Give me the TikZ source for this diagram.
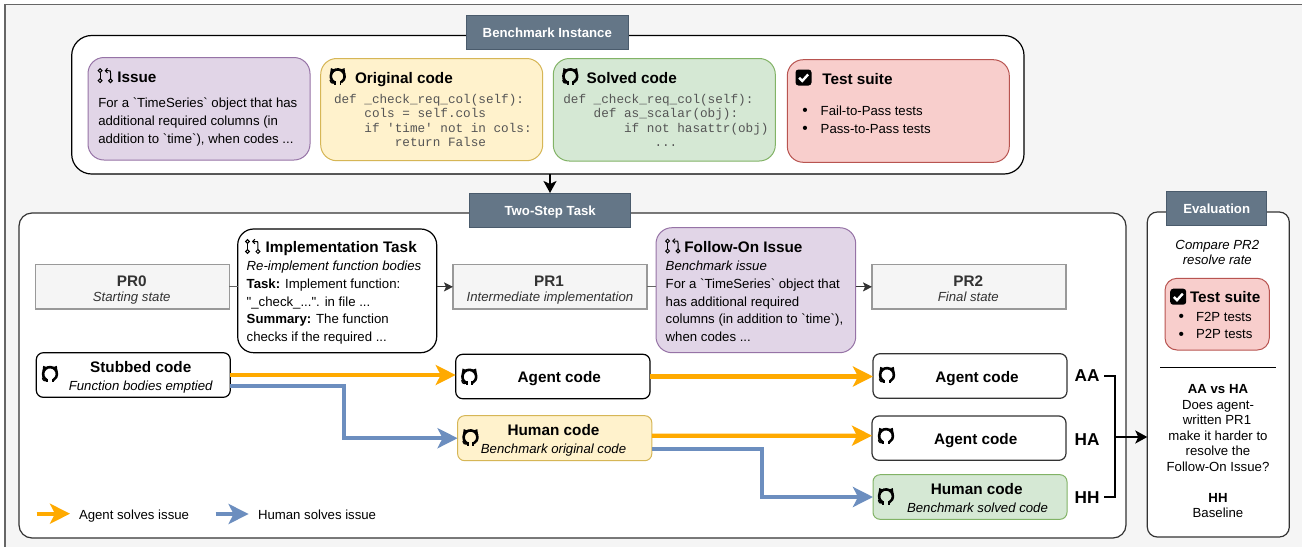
\documentclass[tikz,border=0pt]{standalone}
\usepackage{fontspec}
\usetikzlibrary{arrows.meta}
\newfontfamily\libsans{Liberation Sans}
\newfontfamily\libmono{Liberation Mono}
\definecolor{pgbg}{HTML}{F5F5F5}
\definecolor{pgline}{HTML}{666666}
\definecolor{purf}{HTML}{E1D5E7}\definecolor{purs}{HTML}{9673A6}
\definecolor{yelf}{HTML}{FFF2CC}\definecolor{yels}{HTML}{D6B656}
\definecolor{grnf}{HTML}{D5E8D4}\definecolor{grns}{HTML}{82B366}
\definecolor{redf}{HTML}{F8CECC}\definecolor{reds}{HTML}{B85450}
\definecolor{tabf}{HTML}{647687}\definecolor{tabs}{HTML}{4A5B6C}
\definecolor{orflow}{HTML}{FFAA00}\definecolor{blflow}{HTML}{6C8EBF}
\definecolor{txtgr}{HTML}{333333}\definecolor{prs}{HTML}{999999}
\definecolor{codegr}{HTML}{555555}
\newcommand{\bx}[6]{\node[#1,minimum width={(#4-#2)*1pt},minimum height={(#5-#3)*1pt}] (#6) at ({(#2+#4)/2},{(#3+#5)/2}) {};}
\tikzset{
  x=1pt,y=-1pt,
  every node/.style={inner sep=0pt,outer sep=0pt},
  card/.style={draw,rectangle,rounded corners=16pt,line width=1pt},
  sbox/.style={draw,rectangle,rounded corners=7pt,line width=1.2pt},
  tabbox/.style={draw=tabs,fill=tabf,line width=1pt,text=white,font=\libsans\bfseries\fontsize{13.2}{16}\selectfont,minimum height=34pt},
  prbox/.style={draw=prs,fill=pgbg,line width=1.3pt},
  reg/.style={font=\libsans\fontsize{13.2}{18}\selectfont,yshift=-4.6pt},
  sub/.style={font=\libsans\itshape\fontsize{13.2}{18}\selectfont,yshift=-4.6pt},
  ttl/.style={font=\libsans\bfseries\fontsize{15.3}{18}\selectfont,yshift=-5.3pt},
  blt/.style={font=\libsans\fontsize{15.5}{18}\selectfont,yshift=-5.2pt,anchor=base west},
  codeline/.style={font=\libmono\fontsize{12.67}{14.4}\selectfont,text=codegr,anchor=base west,yshift=-3.5pt},
  lf/.style={anchor=base west},
  ct/.style={anchor=base},
  orarrow/.style={draw=orflow,line width=4.2pt,-{Stealth[length=20pt,width=20pt,inset=5pt]}},
  blarrow/.style={draw=blflow,line width=4.2pt,-{Stealth[length=20pt,width=20pt,inset=5pt]}},
  thinlink/.style={draw=pgline,line width=1.2pt},
  thinarrow/.style={draw=txtgr,line width=1.2pt,-{Stealth[length=9pt,width=9pt,inset=2pt]}},
  bigarrow/.style={draw=black,line width=2pt,-{Stealth[length=12pt,width=13pt,inset=3pt]}},
  ghicon/.pic={
    \draw[line width=2.6pt,black] (118:6.9) arc[start angle=118,end angle=422,radius=6.9];
    \fill[black] (-7.6,-2.5) -- (-6.8,-8.2) -- (-2.5,-6.6) -- cycle;
    \fill[black] (7.6,-2.5) -- (6.8,-8.2) -- (2.5,-6.6) -- cycle;
    \fill[black] (-3.6,4.5) rectangle (-1.8,8.4);
    \fill[black] (3.6,4.5) rectangle (1.8,8.4);
    \draw[line width=1.3pt,black] (-7.6,3.5) .. controls (-6.6,6.8) .. (-2.5,6.6);
  },
  gticon/.pic={
    \draw[line width=1pt,black] (-5.2,-5) circle[radius=1.9] (-5.2,5) circle[radius=1.9] (5.2,5) circle[radius=1.9];
    \draw[line width=1pt,black] (-5.2,-3.1) -- (-5.2,3.1);
    \draw[line width=1pt,black] (5.2,3.1) -- (5.2,-3) .. controls (5.2,-5) .. (3,-5) -- (0.2,-5);
    \draw[line width=1pt,black] (2.2,-7.3) -- (0,-5) -- (2.2,-2.7);
  },
  ckicon/.pic={
    \fill[black,rounded corners=3pt] (-8,-8) rectangle (8,8);
    \draw[white,line width=2.4pt] (-4.4,0.3) -- (-1.2,3.4) -- (4.6,-3);
  }
}
\begin{document}
\begin{tikzpicture}
\useasboundingbox (0,0) rectangle (1302,547);
\fill[pgbg] (5,4.5) rectangle (1302,547);
\draw[pgline,line width=1.3pt] (1302,4.5) -- (5,4.5) -- (5,547);

% outer containers
\bx{draw=black,fill=white,rounded corners=20pt,line width=1.2pt}{71.7}{35.5}{1024}{174}{inst}
\bx{draw=txtgr,fill=white,rounded corners=13pt,line width=1.2pt}{19}{213}{1126}{538}{task}
\bx{draw=txtgr,fill=white,rounded corners=10pt,line width=1.2pt}{1147.3}{212}{1289.3}{537}{eval}

% tabs
\node[tabbox,minimum width=161.5pt,text height=10pt,text depth=0pt,yshift=-0.8pt] (tabbench) at (547.3,31.2) {Benchmark Instance};
\node[tabbox,minimum width=161.5pt,text height=10pt,text depth=0pt,yshift=-0.8pt] (tabtask) at (550.2,209.2) {Two-Step Task};
\node[tabbox,minimum width=100pt,text height=10pt,text depth=0pt,yshift=-0.8pt] (tabeval) at (1216.7,207.9) {Evaluation};

% instance cards
\bx{card,draw=purs,fill=purf}{88}{57.5}{310}{160}{issue}
\bx{card,draw=yels,fill=yelf}{320.7}{58.5}{542.7}{160.7}{orig}
\bx{card,draw=grns,fill=grnf}{553.3}{58.5}{775.3}{161}{solved}
\bx{card,draw=reds,fill=redf}{787.3}{59.7}{1009.3}{162.3}{tests}

\pic at (105.3,75.7) {gticon};
\node[ttl,lf] (issuet) at (117.3,77) {Issue};
\node[reg,lf] (issue1) at (98.3,103.2) {For a `TimeSeries` object that has};
\node[reg,lf] (issue2) at (98.3,121.2) {additional required columns (in};
\node[reg,lf] (issue3) at (98.3,139.2) {addition to `time`), when codes ...};

\pic at (337.7,76.3) {ghicon};
\node[ttl,lf] (origt) at (355,77.8) {Original code};
\node[codeline] (oc1) at (334,99.8) {def \_check\_req\_col(self):};
\node[codeline] (oc2) at (364.4,114.2) {cols = self.cols};
\node[codeline] (oc3) at (364.4,128.6) {if 'time' not in cols:};
\node[codeline] (oc4) at (394.8,143) {return False};

\pic at (570.3,76.3) {ghicon};
\node[ttl,lf] (solvt) at (586.7,77.8) {Solved code};
\node[codeline] (sc1) at (563.3,99.8) {def \_check\_req\_col(self):};
\node[codeline] (sc2) at (593.7,114.2) {def as\_scalar(obj):};
\node[codeline] (sc3) at (624.1,128.6) {if not hasattr(obj)};
\node[codeline] (sc4) at (654.5,143) {...};

\pic at (803.5,77.5) {ckicon};
\node[ttl,lf] (testt) at (822.3,78.8) {Test suite};
\node[blt] (tb1) at (802.3,110.5) {•};
\node[reg,lf] (tt1) at (820.7,110.5) {Fail-to-Pass tests};
\node[blt] (tb2) at (802.3,128.5) {•};
\node[reg,lf] (tt2) at (820.7,128.5) {Pass-to-Pass tests};

% PR row
\bx{prbox}{35.3}{264.7}{229.3}{309}{pr0}
\node[ttl,ct,text=txtgr] (pr0t) at (131.7,280.7) {PR0};
\node[sub,ct,text=txtgr] (pr0s) at (131.7,297) {Starting state};
\bx{card,draw=black,fill=white,line width=1.2pt}{237.7}{229}{436.7}{352.7}{impl}
\pic at (252.7,246.5) {gticon};
\node[ttl,lf] (implt) at (265.7,247.3) {Implementation Task};
\node[sub,lf] (impl1) at (246.7,265.7) {Re-implement function bodies};
\node[reg,lf] (impl2) at (246.7,283.5) {\textbf{Task:} Implement function:};
\node[reg,lf] (impl3) at (246.7,301.5) {"\_check\_...". in file ...};
\node[reg,lf] (impl4) at (246.7,319.3) {\textbf{Summary:} The function};
\node[reg,lf] (impl5) at (246.7,337) {checks if the required ...};

\bx{prbox}{453}{264.7}{647}{309}{pr1}
\node[ttl,ct,text=txtgr] (pr1t) at (549,280.7) {PR1};
\node[sub,ct,text=txtgr] (pr1s) at (550,297) {Intermediate implementation};
\bx{card,draw=purs,fill=purf}{656}{227.7}{855.7}{352.7}{follow}
\pic at (672.8,246) {gticon};
\node[ttl,lf] (follt) at (684.3,247.3) {Follow-On Issue};
\node[sub,lf] (foll1) at (665.7,265.7) {Benchmark issue};
\node[reg,lf] (foll2) at (665.7,283.5) {For a `TimeSeries` object that};
\node[reg,lf] (foll3) at (665.7,301.5) {has additional required};
\node[reg,lf] (foll4) at (665.7,319.3) {columns (in addition to `time`),};
\node[reg,lf] (foll5) at (665.7,337) {when codes ...};

\bx{prbox}{872}{264.7}{1066}{309}{pr2}
\node[ttl,ct,text=txtgr] (pr2t) at (968.3,280.7) {PR2};
\node[sub,ct,text=txtgr] (pr2s) at (968.3,297) {Final state};

% code boxes
\bx{sbox,draw=black,fill=white}{36.3}{352.7}{230.3}{397.3}{stub}
\pic at (50,374) {ghicon};
\node[ttl,ct] (stubt) at (140.7,367) {Stubbed code};
\node[sub,ct] (stubs) at (140.7,385.7) {Function bodies emptied};

\bx{sbox,draw=black,fill=white}{455.7}{354.3}{650}{398.7}{agent1}
\pic at (469.3,376.7) {ghicon};
\node[ttl,ct] (a1t) at (559.3,377) {Agent code};

\bx{sbox,draw=yels,fill=yelf,line width=1pt}{457.6}{415.7}{651.8}{460.7}{horig}
\pic at (470.5,437.3) {ghicon};
\node[ttl,ct] (hot) at (553.5,430.3) {Human code};
\node[sub,ct] (hos) at (553.5,449.3) {Benchmark original code};

\bx{sbox,draw=txtgr,fill=white}{873}{353.7}{1067}{398.3}{agent2}
\pic at (887,375) {ghicon};
\node[ttl,ct] (a2t) at (977,377) {Agent code};

\bx{sbox,draw=txtgr,fill=white}{872}{416}{1066}{460.3}{agent3}
\pic at (886,436) {ghicon};
\node[ttl,ct] (a3t) at (975.7,439) {Agent code};

\bx{sbox,draw=grns,fill=grnf,line width=1pt}{873}{474.7}{1067}{519.3}{hsolved}
\pic at (886,496.3) {ghicon};
\node[ttl,ct] (hst) at (976.7,489.3) {Human code};
\node[sub,ct] (hss) at (977.5,507.7) {Benchmark solved code};

% labels
\node[font=\libsans\bfseries\fontsize{17.2}{18}\selectfont,anchor=center] (laa) at (1087,376) {AA};
\node[font=\libsans\bfseries\fontsize{17.2}{18}\selectfont,anchor=center] (lha) at (1087,440) {HA};
\node[font=\libsans\bfseries\fontsize{17.2}{18}\selectfont,anchor=center] (lhh) at (1087,497.7) {HH};

% evaluation contents
\node[sub,ct] (ev1) at (1217.3,244.7) {Compare PR2};
\node[sub,ct] (ev2) at (1217.3,260.3) {resolve rate};
\bx{draw=reds,fill=redf,rounded corners=12pt,line width=1pt}{1165}{278.3}{1269.3}{350}{evtests}
\pic at (1178.2,296.7) {ckicon};
\node[ttl,lf] (evtt) at (1190,297) {Test suite};
\node[blt] (evb1) at (1178.6,316.7) {•};
\node[reg,lf] (evt1) at (1196,316.7) {F2P tests};
\node[blt] (evb2) at (1178.6,334.3) {•};
\node[reg,lf] (evt2) at (1196,334.3) {P2P tests};
\coordinate (sepl) at (1160,367);
\coordinate (sepr) at (1276.3,367);
\draw[black,line width=1pt] (sepl) -- (sepr);
\node[reg,ct,font=\libsans\bfseries\fontsize{13.2}{18}\selectfont] (e1) at (1218,389) {AA vs HA};
\node[reg,ct] (e2) at (1218,404.7) {Does agent-};
\node[reg,ct] (e3) at (1217,420) {written PR1};
\node[reg,ct] (e4) at (1218,435.7) {make it harder to};
\node[reg,ct] (e5) at (1218,451) {resolve the};
\node[reg,ct] (e6) at (1218,466.5) {Follow-On Issue?};
\node[reg,ct,font=\libsans\bfseries\fontsize{13.2}{18}\selectfont] (e7) at (1218,497.7) {HH};
\node[reg,ct] (e8) at (1218,513) {Baseline};

% legend
\coordinate (lg1a) at (36.6,513.7);
\coordinate (lg1b) at (70,513.7);
\coordinate (lg2a) at (215.6,514);
\coordinate (lg2b) at (248.6,514);
\draw[orarrow] (lg1a) -- (lg1b);
\draw[blarrow] (lg2a) -- (lg2b);
\node[reg,lf] (lgt1) at (79,514.5) {Agent solves issue};
\node[reg,lf] (lgt2) at (258,514.5) {Human solves issue};

% connectors
\coordinate (arrs) at (550,174);
\coordinate (arre) at (550,193);
\draw[bigarrow] (arrs) -- (arre);
\draw[thinlink] (pr0.east) -- (impl.west |- pr0.east);
\draw[thinarrow] (impl.east |- pr1.west) -- (pr1.west);
\draw[thinlink] (pr1.east) -- (follow.west |- pr1.east);
\draw[thinarrow] (follow.east |- pr2.west) -- (pr2.west);
\draw[orarrow] (stub.east) -- (agent1.west |- stub.east);
\draw[orarrow] (agent1.east) -- (agent2.west |- agent1.east);
\draw[orarrow] ([yshift=2.5pt]horig.east) -- ([yshift=2.5pt]agent3.west);
\draw[blarrow] ([yshift=-10.7pt]stub.east) -- ++(113.5,0) |- (horig.west);
\draw[blarrow] ([yshift=-11pt]horig.east) -- ++(110,0) |- (hsolved.west);
\coordinate (brt) at (1104,376);
\coordinate (brb) at (1104,497);
\coordinate (brm) at (1114.5,437);
\draw[black,line width=2pt] (brt) -| (brm) |- (brb);
\draw[bigarrow] (brm) -- (eval.west |- brm);
\end{tikzpicture}
\end{document}
